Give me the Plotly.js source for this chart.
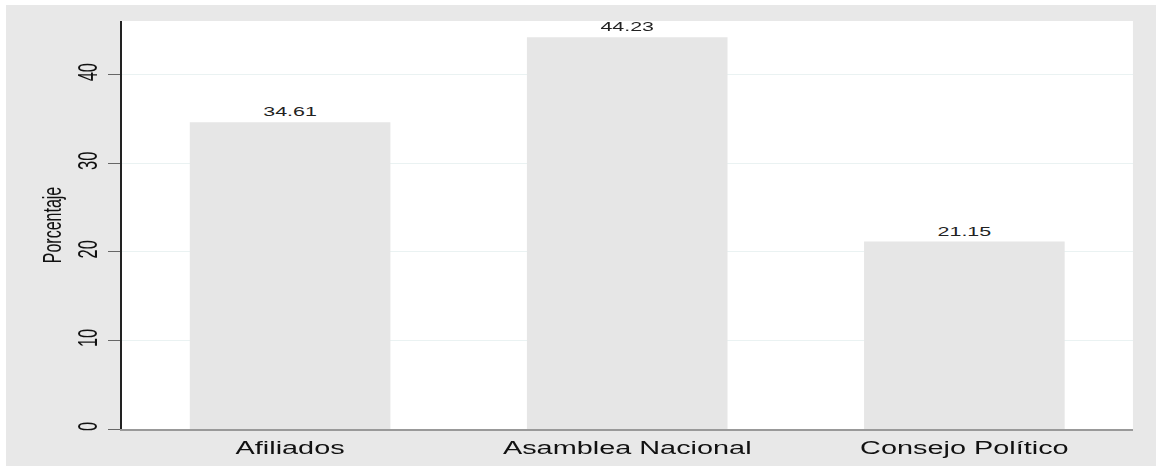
<!DOCTYPE html>
<html><head><meta charset="utf-8">
<script src="https://cdn.plot.ly/plotly-3.0.1.min.js"></script>
<style>
html,body{margin:0;padding:0;background:#fff;width:1156px;height:467px;overflow:hidden}
#wrap{position:absolute;left:6px;top:5px;width:1150px;height:461px;background:#e8e8e8;overflow:hidden}
#chart{position:absolute;left:0;top:0;width:697px;height:461px;transform:scaleX(1.65);transform-origin:0 0}
</style></head><body><div id="wrap"><div id="chart"></div></div>
<script>
const categories = ['Afiliados', 'Asamblea Nacional', 'Consejo Político'];
const values = [34.61, 44.23, 21.15];
const valueLabels = ['34.61', '44.23', '21.15'];
const yTickVals = [0, 10, 20, 30, 40];
const yTitle = 'Porcentaje';

const trace = {
  type: 'bar',
  x: categories,
  y: values,
  text: valueLabels,
  textposition: 'outside',
  texttemplate: '%{text}',
  textfont: {family: 'Liberation Sans, Arial, sans-serif', size: 13, color: '#222'},
  cliponaxis: false,
  marker: {color: '#e6e6e6', line: {width: 0}},
  hoverinfo: 'none'
};

const layout = {
  width: 697, height: 461,
  margin: {l: 70, r: 14, t: 16, b: 37, pad: 0},
  paper_bgcolor: 'rgba(0,0,0,0)',
  plot_bgcolor: '#ffffff',
  bargap: 0.405,
  showlegend: false,
  font: {family: 'Liberation Sans, Arial, sans-serif', color: '#111'},
  xaxis: {
    type: 'category',
    showgrid: false,
    showline: true, linecolor: '#999', linewidth: 2,
    ticks: '', tickfont: {size: 17.5, color: '#111'},
    ticklabelstandoff: 2,
    fixedrange: true
  },
  yaxis: {
    range: [0, 46.05],
    tickvals: yTickVals,
    ticktext: yTickVals.map(String),
    tickangle: -90,
    tickfont: {size: 16.5, color: '#111'},
    ticks: 'outside', ticklen: 7, tickwidth: 1, tickcolor: '#666',
    showline: true, linecolor: '#222', linewidth: 1,
    showgrid: true, gridcolor: '#eaf2f2', gridwidth: 1,
    zeroline: false,
    title: {text: yTitle, font: {size: 16, color: '#111'}, standoff: 2},
    fixedrange: true
  }
};

Plotly.newPlot('chart', [trace], layout, {displayModeBar: false, staticPlot: true});
</script></body></html>
